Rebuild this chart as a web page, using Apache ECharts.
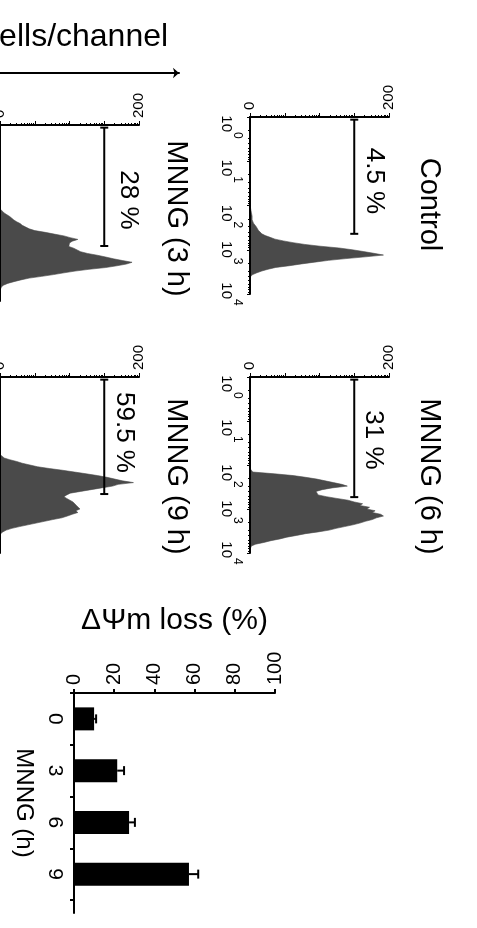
<!DOCTYPE html>
<html><head><meta charset="utf-8">
<script src="https://cdn.jsdelivr.net/npm/echarts@6/dist/echarts.min.js"></script>
<style>html,body{margin:0;padding:0;background:#fff;overflow:hidden}#c{width:477px;height:928px}</style>
</head><body><div id="c"></div>
<script>
const FONT = '"Liberation Sans", Arial, Helvetica, sans-serif';
const BLACK = '#000';
const GREY = '#4a4a4a';

// ---------------- data ----------------
const flDecades = [0, 1, 2, 3, 4];            // FL axis labels 10^0 .. 10^4
const binStep = 0.04;                          // decades per histogram channel
const binCount = 101;                          // channels 0..100 -> 10^0..10^4
const countMin = 0, countMax = 200;            // cells/channel axis
const panelTitles = ['Control', 'MNNG (3 h)', 'MNNG (6 h)', 'MNNG (9 h)'];
const gatePercents = ['4.5 %', '28 %', '31 %', '59.5 %'];
const gateLevel = [150, 150, 150, 150];
const gateFrom = [0.06, 0.06, 0.06, 0.06];     // decades
const gateTo = [2.64, 2.75, 2.73, 2.66];       // decades

const controlStart = 52;
const controlCounts = [1,1,2,2,3,3,3,4,5,6, 9,10,12,14,17,22,29,36,48,62, 79,101,128,147,163,178,192,166,138,113, 93,74,57,37,26,17,10,4,1,0];
const mnng3Start = 48;
const mnng3Counts = [1,3,6,10,14,17,20,24,29,32, 37,42,50,65,78,92,101,112,104,100, 102,99,106,111,116,126,140,152,163,176, 190,182,168,152,128,108,92,77,60,42, 30,20,11,5,2,0];
const mnng6Start = 54;
const mnng6Counts = [4,35,62,80,96,108,120,132,140,118, 104,95,94,98,110,125,141,150,162,158, 172,168,180,176,188,192,182,176,166,158, 148,136,124,114,98,80,67,53,43,30, 20,8,2,0];
const mnng9Start = 45;
const mnng9Counts = [0,6,14,24,32,43,54,71,90,107, 124,140,154,165,176,192,170,162,146,131, 116,101,96,92,96,98,105,107,110,112, 115,109,112,104,97,89,76,64,52,40, 28,17,9,4,1,0];

const barCategories = ['0', '3', '6', '9'];
const lossMean = [10, 21.5, 27.4, 57.2];
const lossErr = [1, 3.4, 2.9, 4.6];
const lossMin = 0, lossMax = 100, lossStep = 20;

// ---------------- layout ----------------
const panelRects = [
  {left: 250, top: 117, width: 139, height: 177},
  {left: 0,   top: 125, width: 139, height: 176},
  {left: 250, top: 377, width: 139, height: 176},
  {left: 0,   top: 377, width: 139, height: 176}
];
const showFlLabels = [true, false, true, false];
const flLabelLead = [20, 20, 22, 6, 0];        // spacer (px) nudging each FL label along the axis
const titlePos = [[429, 204.5], [176, 218.5], [429, 476.5], [176, 476.5]];
const pctPos = [[374.5, 181], [128, 200], [373.5, 440], [124, 432.5]];

function fullBins(start, values) {
  const a = new Array(binCount).fill(0);
  values.forEach((v, k) => { a[start + k] = v; });
  return a;
}
const histData = [
  fullBins(controlStart, controlCounts),
  fullBins(mnng3Start, mnng3Counts),
  fullBins(mnng6Start, mnng6Counts),
  fullBins(mnng9Start, mnng9Counts)
];
const binCats = Array.from({length: binCount}, (_, i) => (i * binStep).toFixed(2));

// fine 4-decade scale for log-pattern ticks
const FINE = 400;
const fineCats = Array.from({length: FINE + 1}, (_, i) => String(i));
const isMajor = i => i % 100 === 0;
const minorSet = new Set();
for (let k = 0; k < 4; k++) for (let m = 2; m <= 9; m++) minorSet.add(Math.round(100 * (k + Math.log10(m))));
const isMinor = i => minorSet.has(i);

const flRich = {
  b: {fontSize: 15, fontFamily: FONT, color: BLACK, lineHeight: 24, verticalAlign: 'bottom'},
  s: {fontSize: 12, fontFamily: FONT, color: BLACK, lineHeight: 10, verticalAlign: 'top'}
};
flLabelLead.forEach((w, k) => { flRich['p' + k] = {width: w, lineHeight: 10}; });

const grids = [], xAxes = [], yAxes = [], series = [];
panelRects.forEach((r, p) => {
  grids.push(Object.assign({outerBoundsMode: 'none', containLabel: false}, r));
  // count axis (top)
  xAxes.push({
    type: 'value', gridIndex: p, position: 'top', min: countMin, max: countMax, interval: countMax,
    axisLine: {show: true, onZero: false, lineStyle: {color: BLACK, width: 2}},
    axisTick: {show: false}, splitLine: {show: false},
    axisLabel: {show: true, rotate: -90, margin: 7, fontSize: 15, color: BLACK, fontFamily: FONT}
  });
  xAxes.push({
    type: 'category', gridIndex: p, position: 'top', data: fineCats, boundaryGap: false,
    axisLine: {show: false, onZero: false}, axisLabel: {show: false}, splitLine: {show: false},
    axisTick: {show: true, interval: isMajor, length: 4, lineStyle: {color: BLACK, width: 1}}
  });
  xAxes.push({
    type: 'category', gridIndex: p, position: 'top', data: fineCats, boundaryGap: false,
    axisLine: {show: false, onZero: false}, axisLabel: {show: false}, splitLine: {show: false},
    axisTick: {show: true, interval: isMinor, length: 2, lineStyle: {color: BLACK, width: 1}}
  });
  // FL axis (left, log channels)
  yAxes.push({
    type: 'category', gridIndex: p, position: 'left', data: binCats, inverse: true, boundaryGap: false, z: 10,
    axisLine: {show: true, onZero: false, lineStyle: {color: BLACK, width: 2}},
    axisTick: {show: false}, axisLabel: {show: false}, splitLine: {show: false}
  });
  yAxes.push({
    type: 'category', gridIndex: p, position: 'left', data: fineCats, inverse: true, boundaryGap: false,
    axisLine: {show: false, onZero: false}, splitLine: {show: false},
    axisTick: {show: true, interval: isMajor, length: 3, lineStyle: {color: BLACK, width: 1}},
    axisLabel: {
      show: showFlLabels[p], interval: isMajor, rotate: -90, margin: 7,
      formatter: (v, i) => {
        const k = i / 100;
        return (flLabelLead[k] ? '{p' + k + '|}' : '') + '{b|10}{s|' + flDecades[k] + '}';
      },
      rich: flRich
    }
  });
  yAxes.push({
    type: 'category', gridIndex: p, position: 'left', data: fineCats, inverse: true, boundaryGap: false,
    axisLine: {show: false, onZero: false}, axisLabel: {show: false}, splitLine: {show: false},
    axisTick: {show: true, interval: isMinor, length: 2, lineStyle: {color: BLACK, width: 1}}
  });
  yAxes.push({type: 'value', gridIndex: p, min: 0, max: 4, inverse: true, show: false});

  series.push({
    type: 'line', xAxisIndex: 3 * p, yAxisIndex: 4 * p, data: histData[p],
    symbol: 'none', silent: true,
    lineStyle: {color: GREY, width: 0.6}, areaStyle: {color: GREY, opacity: 1}
  });
  series.push({
    type: 'custom', xAxisIndex: 3 * p, yAxisIndex: 4 * p + 3, silent: true, z: 5,
    data: [[gateLevel[p], gateFrom[p], gateTo[p]]],
    encode: {x: 0, y: [1, 2]},
    renderItem: (params, api) => {
      const a = api.coord([api.value(0), api.value(1)]);
      const b = api.coord([api.value(0), api.value(2)]);
      const h = 4, st = {stroke: BLACK, lineWidth: 2};
      return {type: 'group', children: [
        {type: 'line', shape: {x1: a[0], y1: a[1], x2: b[0], y2: b[1]}, style: st},
        {type: 'line', shape: {x1: a[0] - h, y1: a[1], x2: a[0] + h, y2: a[1]}, style: st},
        {type: 'line', shape: {x1: b[0] - h, y1: b[1], x2: b[0] + h, y2: b[1]}, style: st}
      ]};
    }
  });
});

// bar chart grid (4), extended axis line grid (5), arrow grid (6)
grids.push({left: 74, top: 693, width: 201, height: 207, outerBoundsMode: 'none', containLabel: false});
grids.push({left: 74, top: 693, width: 201, height: 220, outerBoundsMode: 'none', containLabel: false});
grids.push({left: -10, top: 73, width: 189, height: 20, outerBoundsMode: 'none', containLabel: false});

xAxes.push({
  type: 'value', gridIndex: 4, position: 'top', min: lossMin, max: lossMax, interval: lossStep,
  axisLine: {show: true, onZero: false, lineStyle: {color: BLACK, width: 2}},
  axisTick: {show: true, length: 4, lineStyle: {color: BLACK, width: 2}},
  splitLine: {show: false},
  axisLabel: {rotate: -90, margin: 8, fontSize: 20, color: BLACK, fontFamily: FONT},
  name: 'ΔΨm loss (%)', nameLocation: 'middle', nameGap: 57,
  nameTextStyle: {fontSize: 30, color: BLACK, fontFamily: FONT}
});
xAxes.push({type: 'value', gridIndex: 5, show: false});
xAxes.push({
  type: 'value', gridIndex: 6, position: 'top', min: 0, max: 1,
  axisLine: {show: true, onZero: false, symbol: ['none', 'arrow'], symbolSize: [8, 6], lineStyle: {color: BLACK, width: 2}},
  axisTick: {show: false}, axisLabel: {show: false}, splitLine: {show: false}
});

yAxes.push({
  type: 'category', gridIndex: 4, position: 'left', data: barCategories, inverse: true,
  axisLine: {show: false, onZero: false},
  axisTick: {show: true, length: 4, lineStyle: {color: BLACK, width: 2}},
  axisLabel: {rotate: -90, margin: 9, fontSize: 21, color: BLACK, fontFamily: FONT}
});
yAxes.push({
  type: 'value', gridIndex: 5, position: 'left', min: 0, max: 1, inverse: true,
  axisLine: {show: true, onZero: false, lineStyle: {color: BLACK, width: 2}},
  axisTick: {show: false}, axisLabel: {show: false}, splitLine: {show: false},
  name: 'MNNG (h)', nameLocation: 'middle', nameRotate: -90, nameGap: 38,
  nameTextStyle: {fontSize: 24, color: BLACK, fontFamily: FONT}
});
yAxes.push({type: 'value', gridIndex: 6, show: false});

const barX = 12, barY = 16;
series.push({
  type: 'bar', xAxisIndex: barX, yAxisIndex: barY, data: lossMean, barWidth: 23,
  itemStyle: {color: BLACK}, silent: true
});
series.push({
  type: 'custom', xAxisIndex: barX, yAxisIndex: barY, silent: true, z: 5,
  data: lossMean.map((v, i) => [v, i, lossErr[i]]),
  encode: {x: 0, y: 1},
  renderItem: (params, api) => {
    const v = api.value(0), c = api.value(1), e = api.value(2);
    const a = api.coord([v, c]);
    const b = api.coord([v + e, c]);
    const h = 4.5, st = {stroke: BLACK, lineWidth: 2};
    return {type: 'group', children: [
      {type: 'line', shape: {x1: a[0], y1: a[1], x2: b[0], y2: b[1]}, style: st},
      {type: 'line', shape: {x1: b[0], y1: b[1] - h, x2: b[0], y2: b[1] + h}, style: st}
    ]};
  }
});

const graphics = [];
panelTitles.forEach((t, p) => {
  graphics.push({type: 'text', x: titlePos[p][0], y: titlePos[p][1], rotation: -Math.PI / 2,
    style: {text: t, font: '29px ' + FONT, fill: BLACK, align: 'center', verticalAlign: 'middle'}});
  graphics.push({type: 'text', x: pctPos[p][0], y: pctPos[p][1], rotation: -Math.PI / 2,
    style: {text: gatePercents[p], font: '26px ' + FONT, fill: BLACK, align: 'center', verticalAlign: 'middle'}});
});
graphics.push({type: 'text', x: -24, y: 37.5,
  style: {text: 'Cells/channel', font: '32px ' + FONT, fill: BLACK, align: 'left', verticalAlign: 'middle'}});

const chart = echarts.init(document.getElementById('c'), null, {renderer: 'canvas'});
chart.setOption({
  animation: false,
  backgroundColor: '#fff',
  textStyle: {fontFamily: FONT},
  grid: grids, xAxis: xAxes, yAxis: yAxes, series: series,
  graphic: {elements: graphics}
});
</script></body></html>
